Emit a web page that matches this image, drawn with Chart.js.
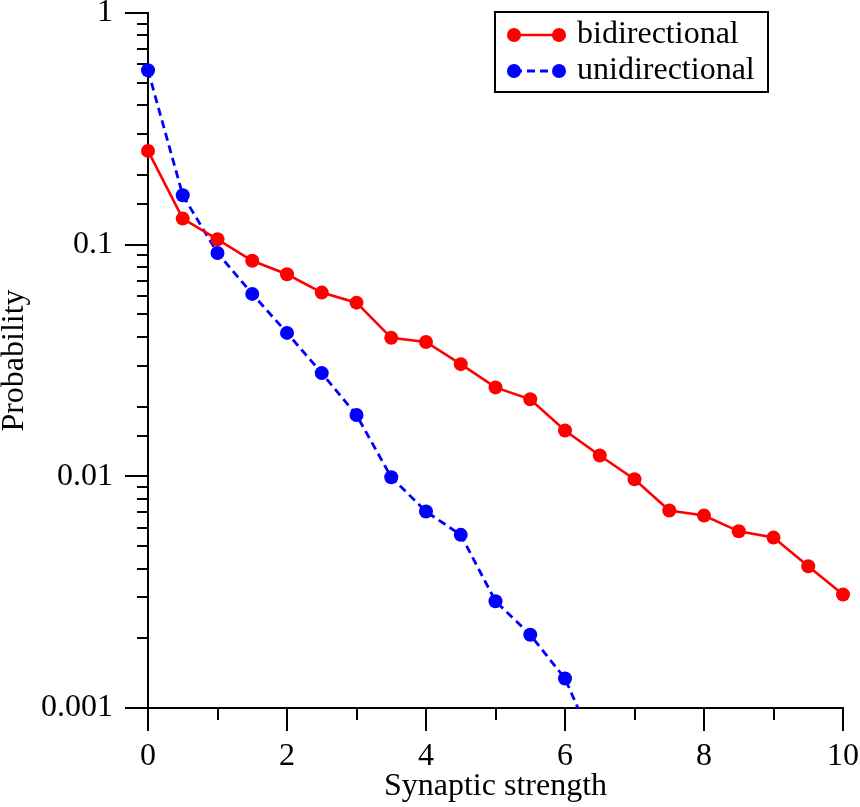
<!DOCTYPE html>
<html><head><meta charset="utf-8">
<script src="https://cdn.jsdelivr.net/npm/chart.js@4.4.1/dist/chart.umd.min.js"></script>
<style>html,body{margin:0;padding:0;background:#fff;}canvas{display:block;}</style>
</head><body>
<canvas id="c" width="860" height="807"></canvas>
<script>
// ---- data ----
const strengths = [0,0.5,1,1.5,2,2.5,3,3.5,4,4.5,5,5.5,6,6.5,7,7.5,8,8.5,9,9.5,10];
const bidirectional = [0.254,0.1296,0.1055,0.0852,0.0745,0.0621,0.0562,0.0396,0.0380,0.0305,0.0242,0.0215,0.01576,0.0123,0.00972,0.00712,0.00677,0.00579,0.00544,0.00409,0.00309];
const unidirectional = [0.566,0.1634,0.0921,0.0613,0.0416,0.0279,0.0184,0.00991,0.00705,0.00559,0.00289,0.00207,0.00134,0.00061];
const seriesNames = ['bidirectional','unidirectional'];
const xTickLabels = ['0','2','4','6','8','10'];
const yTickLabels = ['0.001','0.01','0.1','1'];
const xTitle = 'Synaptic strength';
const yTitle = 'Probability';

const FONT = '"Liberation Serif", "Times New Roman", serif';
const toPts = arr => arr.map((v,i)=>({x: strengths[i], y: v}));

const isPow10 = v => Math.abs(Math.log10(v) - Math.round(Math.log10(v))) < 1e-6;

const tickPlugin = {
  id: 'outerTicks',
  beforeDatasetsDraw(chart){
    const ctx = chart.ctx, xs = chart.scales.x, ys = chart.scales.y;
    const area = chart.chartArea;
    ctx.save();
    ctx.strokeStyle = '#000'; ctx.lineWidth = 2; ctx.lineCap = 'butt';
    ys.ticks.forEach(t => {
      const p = Math.round(ys.getPixelForValue(t.value));
      const len = isPow10(t.value) ? 23 : 11;
      ctx.beginPath(); ctx.moveTo(area.left - len, p); ctx.lineTo(area.left, p); ctx.stroke();
    });
    xs.ticks.forEach(t => {
      const p = Math.round(xs.getPixelForValue(t.value));
      const len = (Math.round(t.value) % 2 === 0) ? 23 : 12;
      ctx.beginPath(); ctx.moveTo(p, area.bottom); ctx.lineTo(p, area.bottom + len); ctx.stroke();
    });
    ctx.restore();
  }
};

const legendPlugin = {
  id: 'boxLegend',
  afterDraw(chart){
    const ctx = chart.ctx;
    const L = 495, T = 12, R = 768, B = 92;
    ctx.save();
    ctx.fillStyle = '#fff'; ctx.fillRect(L, T, R-L, B-T);
    ctx.lineWidth = 2; ctx.strokeStyle = '#000'; ctx.strokeRect(L, T, R-L, B-T);
    chart.data.datasets.forEach((ds, i) => {
      const y = 35 + i*36;
      ctx.beginPath();
      ctx.setLineDash(ds.borderDash || []);
      ctx.lineWidth = ds.borderWidth; ctx.strokeStyle = ds.borderColor;
      ctx.moveTo(514, y); ctx.lineTo(559, y); ctx.stroke();
      ctx.setLineDash([]);
      [514, 559].forEach(x => {
        ctx.beginPath(); ctx.arc(x, y, ds.pointRadius, 0, Math.PI*2);
        ctx.fillStyle = ds.pointBackgroundColor; ctx.fill();
      });
      ctx.fillStyle = '#000'; ctx.font = '32px ' + FONT;
      ctx.textBaseline = 'middle'; ctx.textAlign = 'left';
      ctx.fillText(ds.label, 577, y);
    });
    ctx.restore();
  }
};

new Chart(document.getElementById('c'), {
  type: 'line',
  data: {
    datasets: [
      { label: seriesNames[0], data: toPts(bidirectional), borderColor: '#ff0000', backgroundColor: '#ff0000',
        pointBackgroundColor: '#ff0000', pointBorderWidth: 0, pointRadius: 7, borderWidth: 2.6, tension: 0,
        clip: {left: 10, right: 12, top: 10, bottom: 1} },
      { label: seriesNames[1], data: toPts(unidirectional), borderColor: '#0000ff', backgroundColor: '#0000ff',
        pointBackgroundColor: '#0000ff', pointBorderWidth: 0, pointRadius: 7, borderWidth: 2.8, borderDash: [8,5], tension: 0,
        clip: {left: 10, right: 12, top: 10, bottom: 1} }
    ]
  },
  options: {
    responsive: false, devicePixelRatio: 1, animation: false,
    layout: { padding: { left: 0, right: 17, top: 13, bottom: 0 } },
    plugins: { legend: { display: false }, tooltip: { enabled: false } },
    scales: {
      x: {
        type: 'linear', min: 0, max: 10,
        grid: { display: false, drawTicks: false, drawOnChartArea: false },
        border: { display: true, color: '#000', width: 2 },
        ticks: { stepSize: 1, autoSkip: false, maxRotation: 0, padding: 29, color: '#000',
          font: { family: FONT, size: 32 },
          callback: v => xTickLabels.includes(String(v)) ? String(v) : '' },
        title: { display: true, text: xTitle, color: '#000', font: { family: FONT, size: 32, lineHeight: 1.2 },
          padding: { top: 0, bottom: 1 } },
        afterFit: s => { s.height = 99; s.paddingLeft = 0; s.paddingRight = 0; }
      },
      y: {
        type: 'logarithmic', min: 0.001, max: 1,
        grid: { display: false, drawTicks: false, drawOnChartArea: false },
        border: { display: true, color: '#000', width: 2 },
        ticks: { autoSkip: false, padding: 35, color: '#000', font: { family: FONT, size: 32 },
          callback: v => yTickLabels.find(l => Math.abs(parseFloat(l) - v) / v < 1e-6) || '' },
        title: { display: true, text: yTitle, color: '#000', font: { family: FONT, size: 32, lineHeight: 0.9 },
          padding: { top: 0, bottom: 0 } },
        afterFit: s => { s.width = 148; s.paddingTop = 0; s.paddingBottom = 0; }
      }
    }
  },
  plugins: [tickPlugin, legendPlugin]
});
</script>
</body></html>
